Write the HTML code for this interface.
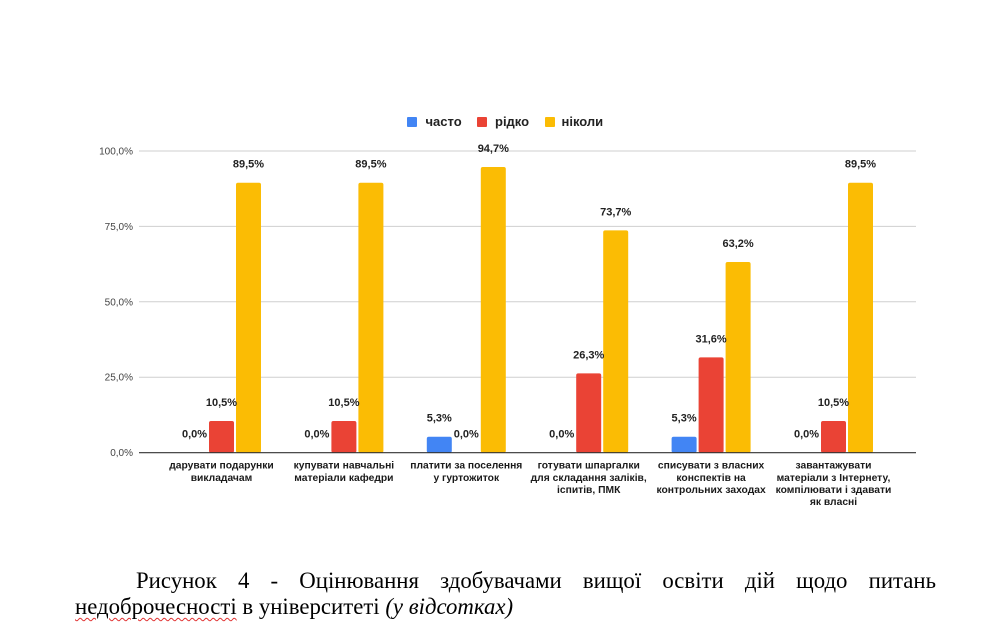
<!DOCTYPE html>
<html><head><meta charset="utf-8">
<style>
html,body{margin:0;padding:0;background:#fff;}
body{width:982px;height:640px;position:relative;overflow:hidden;}
svg{position:absolute;left:0;top:0;}
.cap{position:absolute;font-family:"Liberation Serif","Noto Serif CJK SC",serif;font-size:22.8px;line-height:23px;color:#000;white-space:nowrap;}
.l1{left:136px;top:569px;width:800px;text-align:justify;text-align-last:justify;white-space:normal;}
.l2{left:75px;top:595px;}
.wavy{text-decoration:underline wavy #e03030;text-decoration-thickness:1px;text-underline-offset:3px;}
</style></head><body>
<svg width="982" height="640" xmlns="http://www.w3.org/2000/svg" font-family="Liberation Sans, sans-serif">
<!-- legend -->
<rect x="407" y="117" width="10" height="10" rx="1" fill="#4285F4"/>
<text x="425.5" y="126" font-size="13" font-weight="bold" fill="#222">часто</text>
<rect x="477" y="117" width="10" height="10" rx="1" fill="#EA4335"/>
<text x="495" y="126" font-size="13" font-weight="bold" fill="#222">рідко</text>
<rect x="545" y="117" width="10" height="10" rx="1" fill="#FBBC04"/>
<text x="561.5" y="126" font-size="13" font-weight="bold" fill="#222">ніколи</text>
<!-- gridlines -->
<g stroke="#cfcfcf" stroke-width="1">
<line x1="139" x2="916" y1="151" y2="151"/>
<line x1="139" x2="916" y1="226.4" y2="226.4"/>
<line x1="139" x2="916" y1="301.8" y2="301.8"/>
<line x1="139" x2="916" y1="377.2" y2="377.2"/>
</g>
<g font-size="10" fill="#444" text-anchor="end">
<text x="133" y="154.5">100,0%</text>
<text x="133" y="230">75,0%</text>
<text x="133" y="305.3">50,0%</text>
<text x="133" y="380.7">25,0%</text>
<text x="133" y="456.2">0,0%</text>
</g>
<!-- bars -->
<g>
<rect x="209" y="421" width="25" height="31.7" rx="2" fill="#EA4335"/>
<rect x="236" y="182.7" width="25" height="270" rx="2" fill="#FBBC04"/>
<rect x="331.4" y="421" width="25" height="31.7" rx="2" fill="#EA4335"/>
<rect x="358.4" y="182.7" width="25" height="270" rx="2" fill="#FBBC04"/>
<rect x="426.8" y="436.7" width="25" height="16" rx="2" fill="#4285F4"/>
<rect x="480.8" y="167" width="25" height="285.7" rx="2" fill="#FBBC04"/>
<rect x="576.2" y="373.4" width="25" height="79.3" rx="2" fill="#EA4335"/>
<rect x="603.2" y="230.4" width="25" height="222.3" rx="2" fill="#FBBC04"/>
<rect x="671.6" y="436.7" width="25" height="16" rx="2" fill="#4285F4"/>
<rect x="698.6" y="357.4" width="25" height="95.3" rx="2" fill="#EA4335"/>
<rect x="725.6" y="262" width="25" height="190.7" rx="2" fill="#FBBC04"/>
<rect x="821" y="421" width="25" height="31.7" rx="2" fill="#EA4335"/>
<rect x="848" y="182.7" width="25" height="270" rx="2" fill="#FBBC04"/>
</g>
<line x1="139" x2="916" y1="452.7" y2="452.7" stroke="#333" stroke-width="1.2"/>
<!-- data labels -->
<g font-size="11" font-weight="bold" fill="#222" text-anchor="middle">
<text x="194.5" y="437.7">0,0%</text>
<text x="221.5" y="406">10,5%</text>
<text x="248.5" y="167.7">89,5%</text>

<text x="316.9" y="437.7">0,0%</text>
<text x="343.9" y="406">10,5%</text>
<text x="370.9" y="167.7">89,5%</text>

<text x="439.3" y="421.7">5,3%</text>
<text x="466.3" y="437.7">0,0%</text>
<text x="493.3" y="152">94,7%</text>

<text x="561.7" y="437.7">0,0%</text>
<text x="588.7" y="358.4">26,3%</text>
<text x="615.7" y="215.4">73,7%</text>

<text x="684.1" y="421.7">5,3%</text>
<text x="711.1" y="342.4">31,6%</text>
<text x="738.1" y="247">63,2%</text>

<text x="806.5" y="437.7">0,0%</text>
<text x="833.5" y="406">10,5%</text>
<text x="860.5" y="167.7">89,5%</text>
</g>
<!-- category labels -->
<g font-size="10.3" font-weight="bold" fill="#1a1a1a" text-anchor="middle">
<text x="221.5" y="468.5">дарувати подарунки</text>
<text x="221.5" y="481">викладачам</text>
<text x="343.9" y="468.5">купувати навчальні</text>
<text x="343.9" y="481">матеріали кафедри</text>
<text x="466.3" y="468.5">платити за поселення</text>
<text x="466.3" y="481">у гуртожиток</text>
<text x="588.7" y="468.5">готувати шпаргалки</text>
<text x="588.7" y="481">для складання заліків,</text>
<text x="588.7" y="493">іспитів, ПМК</text>
<text x="711.1" y="468.5">списувати з власних</text>
<text x="711.1" y="481">конспектів на</text>
<text x="711.1" y="493">контрольних заходах</text>
<text x="833.5" y="468.5">завантажувати</text>
<text x="833.5" y="481">матеріали з Інтернету,</text>
<text x="833.5" y="493">компілювати і здавати</text>
<text x="833.5" y="505">як власні</text>
</g>
</svg>
<div class="cap l1">Рисунок 4 - Оцінювання здобувачами вищої освіти дій щодо питань</div>
<div class="cap l2"><span class="wavy">недоброчесності</span> в університеті <i>(у відсотках)</i></div>
</body></html>
